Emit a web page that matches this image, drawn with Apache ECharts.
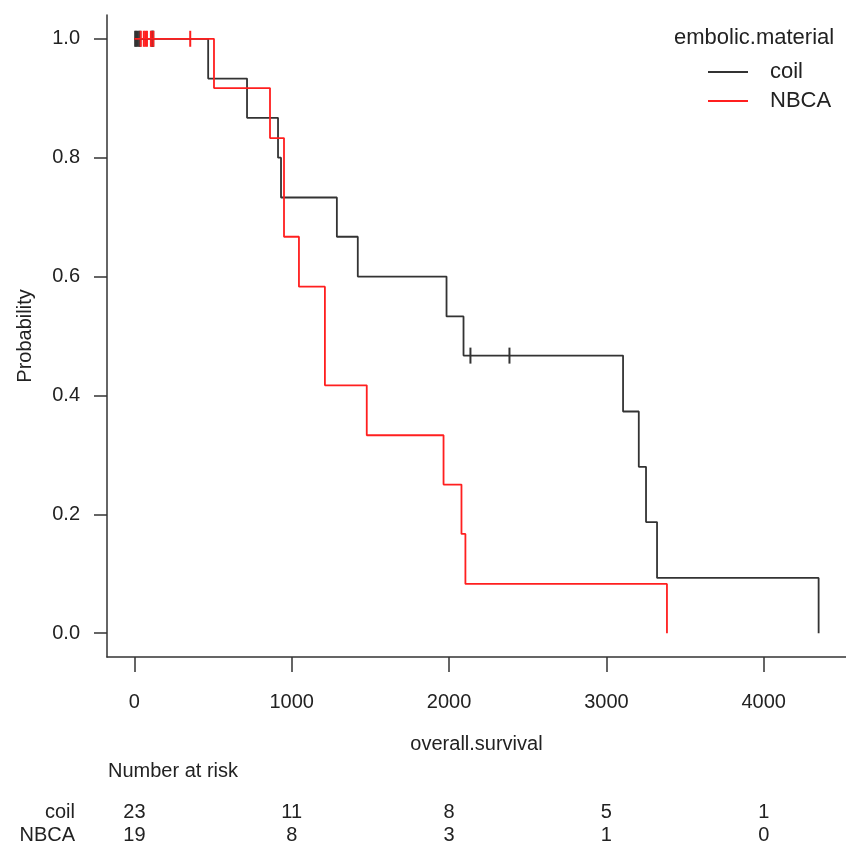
<!DOCTYPE html>
<html>
<head>
<meta charset="utf-8">
<script src="https://cdn.jsdelivr.net/npm/echarts@6/dist/echarts.min.js"></script>
<style>
html, body { margin: 0; padding: 0; background: #fff; }
#chart { width: 846px; height: 850px; }
</style>
</head>
<body>
<div id="chart"></div>
<script>
// Kaplan-Meier step points (time, survival after the event)
var coilTime = [0, 469, 716, 913, 932, 1287, 1420, 1984, 2092, 3106, 3206, 3252, 3322, 4349]
var coilSurv = [1, 0.933, 0.867, 0.8, 0.733, 0.667, 0.6, 0.533, 0.467, 0.373, 0.28, 0.187, 0.093, 0]
var nbcaTime = [0, 506, 862, 951, 1046, 1211, 1477, 1965, 2079, 2104, 3385]
var nbcaSurv = [1, 0.917, 0.833, 0.667, 0.583, 0.417, 0.333, 0.25, 0.167, 0.083, 0]

// censored observations
var coilCensor = [5, 12, 20, 30, 38, 110, 115, 120, 2136, 2384]
var nbcaCensor = [40, 60, 70, 80, 105, 120, 355]

// number at risk table
var riskTimes = [0, 1000, 2000, 3000, 4000]
var coilRisk = [23, 11, 8, 5, 1]
var nbcaRisk = [19, 8, 3, 1, 0]

var xTicks = [0, 1000, 2000, 3000, 4000]
var yTicks = [0, 0.2, 0.4, 0.6, 0.8, 1.0]

var FONT = 'Liberation Sans, Arial, sans-serif'
var COIL = '#333333'
var NBCA = '#ff1f1f'

function pairs (t, s) {
  return t.map(function (v, i) { return [v, s[i]] })
}
function survAt (t, s, x) {
  var v = s[0]
  for (var i = 0; i < t.length; i++) {
    if (t[i] <= x) v = s[i]
  }
  return v
}
function censorPoints (t, s, c) {
  return c.map(function (x) { return [x, survAt(t, s, x)] })
}
function riskPoints (name, vals) {
  return riskTimes.map(function (x, i) { return [x, name, vals[i]] })
}

var myChart = echarts.init(document.getElementById('chart'))

var option = {
  animation: false,
  backgroundColor: '#fff',
  textStyle: { fontFamily: FONT, color: '#222' },
  grid: [
    { left: 107, top: 15, width: 743, height: 642 },
    { left: 107, top: 801, width: 743, height: 46 }
  ],
  legend: {
    data: ['coil', 'NBCA'],
    orient: 'vertical',
    left: 703,
    top: 56,
    icon: 'rect',
    itemWidth: 40,
    itemHeight: 2,
    itemGap: 7,
    textStyle: { fontFamily: FONT, fontSize: 22, color: '#222', padding: [0, 0, 0, 17] }
  },
  graphic: [
    {
      type: 'text',
      left: 674,
      top: 27,
      style: { text: 'embolic.material', font: '22px ' + FONT, fill: '#222' }
    },
    {
      type: 'text',
      left: 108,
      top: 761,
      style: { text: 'Number at risk', font: '20px ' + FONT, fill: '#222' }
    }
  ],
  xAxis: [
    {
      type: 'value',
      gridIndex: 0,
      min: -174,
      max: 4523,
      name: 'overall.survival',
      nameLocation: 'middle',
      nameGap: 77,
      nameTextStyle: { fontSize: 20, color: '#222' },
      axisLine: { show: true, onZero: false, lineStyle: { color: '#333', width: 1.5 } },
      axisTick: { show: true, length: 15, customValues: xTicks, lineStyle: { color: '#333', width: 1.5 } },
      axisLabel: {
        customValues: xTicks,
        fontSize: 20,
        color: '#222',
        margin: 35,
        formatter: function (v) { return String(v) }
      },
      splitLine: { show: false }
    },
    {
      type: 'value',
      gridIndex: 1,
      min: -174,
      max: 4523,
      show: false
    }
  ],
  yAxis: [
    {
      type: 'value',
      gridIndex: 0,
      min: -0.04,
      max: 1.04,
      name: 'Probability',
      nameLocation: 'middle',
      nameGap: 72,
      nameTextStyle: { fontSize: 20, color: '#222' },
      axisLine: { show: true, onZero: false, lineStyle: { color: '#333', width: 1.5 } },
      axisTick: { show: true, length: 13, customValues: yTicks, lineStyle: { color: '#333', width: 1.5 } },
      axisLabel: {
        customValues: yTicks,
        fontSize: 20,
        color: '#222',
        margin: 27,
        formatter: function (v) { return v.toFixed(1) }
      },
      splitLine: { show: false }
    },
    {
      type: 'category',
      gridIndex: 1,
      data: ['coil', 'NBCA'],
      inverse: true,
      axisLine: { show: false },
      axisTick: { show: false },
      axisLabel: { interval: 0, fontSize: 20, color: '#222', margin: 32 },
      splitLine: { show: false }
    }
  ],
  series: [
    {
      name: 'coil',
      type: 'line',
      step: 'end',
      showSymbol: false,
      symbol: 'none',
      color: COIL,
      lineStyle: { color: COIL, width: 1.8 },
      data: pairs(coilTime, coilSurv)
    },
    {
      name: 'NBCA',
      type: 'line',
      step: 'end',
      showSymbol: false,
      symbol: 'none',
      color: NBCA,
      lineStyle: { color: NBCA, width: 1.8 },
      data: pairs(nbcaTime, nbcaSurv)
    },
    {
      name: 'coil censored',
      type: 'scatter',
      symbol: 'rect',
      symbolSize: [2, 16],
      itemStyle: { color: COIL, opacity: 1 },
      data: censorPoints(coilTime, coilSurv, coilCensor)
    },
    {
      name: 'NBCA censored',
      type: 'scatter',
      symbol: 'rect',
      symbolSize: [2, 16],
      itemStyle: { color: NBCA, opacity: 1 },
      data: censorPoints(nbcaTime, nbcaSurv, nbcaCensor)
    },
    {
      name: 'risk',
      type: 'scatter',
      xAxisIndex: 1,
      yAxisIndex: 1,
      symbolSize: 1,
      itemStyle: { color: '#fff', opacity: 1 },
      label: {
        show: true,
        position: 'inside',
        fontSize: 20,
        color: '#222',
        opacity: 1,
        textBorderWidth: 0,
        formatter: function (p) { return p.value[2] }
      },
      data: riskPoints('coil', coilRisk).concat(riskPoints('NBCA', nbcaRisk))
    }
  ]
}

myChart.setOption(option)
</script>
</body>
</html>
